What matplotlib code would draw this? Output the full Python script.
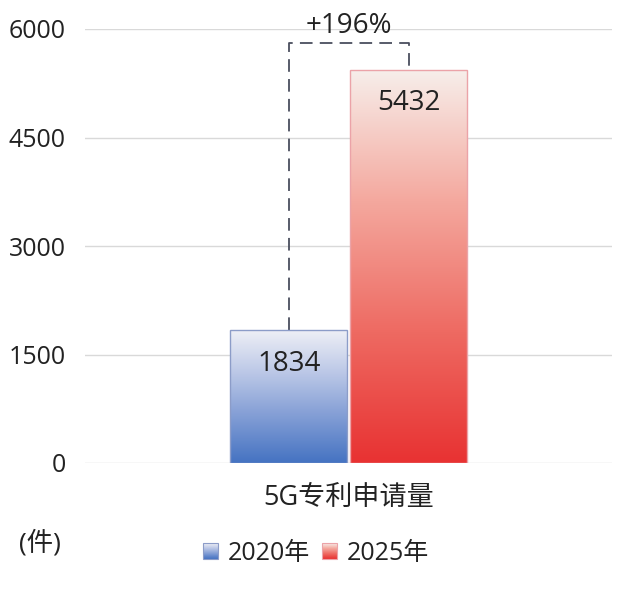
import numpy as np
import matplotlib
matplotlib.use("Agg")
import matplotlib.pyplot as plt
from matplotlib.colors import LinearSegmentedColormap
from matplotlib.patches import Patch, Rectangle
from matplotlib.legend_handler import HandlerBase
from matplotlib.image import BboxImage
from matplotlib.transforms import Bbox, TransformedBbox

plt.rcParams['font.family'] = ['Open Sans', 'Noto Sans CJK SC', 'DejaVu Sans']

# data
category = '5G专利申请量'
years = ['2020年', '2025年']
values = [1834, 5432]
growth = '+196%'
y_ticks = [0, 1500, 3000, 4500, 6000]
unit = '(件)'

# gradient colours, bottom -> top
grad_colors = [
    ['#4573c2', '#7f9bd4', '#b9c6e6', '#eeeff6'],
    ['#e83232', '#ee6a62', '#f4a89e', '#f7eeea'],
]
edge_colors = ['#8c9cc8', '#eba3a8']
txt = '#222222'

cmaps = [LinearSegmentedColormap.from_list('g%d' % i, grad_colors[i]) for i in range(2)]
grad = np.linspace(0, 1, 256).reshape(-1, 1)


class GradHandler(HandlerBase):
    # legend square filled with the same vertical gradient as the bar
    def __init__(self, cmap, edge):
        super().__init__()
        self.cmap = cmap
        self.edge = edge

    def create_artists(self, legend, orig_handle, xdescent, ydescent,
                       width, height, fontsize, trans):
        bb = TransformedBbox(Bbox.from_bounds(-xdescent, -ydescent, width, height), trans)
        img = BboxImage(bb, cmap=self.cmap, origin='lower', interpolation='bilinear')
        img.set_data(np.linspace(0.0, 0.9, 64).reshape(-1, 1))
        rect = Rectangle((-xdescent, -ydescent), width, height, facecolor='none',
                         edgecolor=self.edge, linewidth=0.8, transform=trans)
        return [img, rect]


fig = plt.figure(figsize=(6.4, 5.89), dpi=100)
ax = fig.add_axes([85 / 640, 1 - 463 / 589, 527 / 640, 434 / 589])

ax.set_xlim(-0.5, 0.5)
ax.set_ylim(0, 6000)
ax.set_yticks(y_ticks)
ax.set_yticklabels([str(t) for t in y_ticks], fontsize=18, color=txt)
ax.tick_params(axis='y', length=0, pad=14)
ax.set_xticks([0])
ax.set_xticklabels([category], fontsize=19.5, color=txt)
ax.tick_params(axis='x', length=0, pad=15)
for s in ax.spines.values():
    s.set_visible(False)
ax.grid(axis='y', color='#d9d9d9', linewidth=1)
ax.set_axisbelow(True)

width = 0.222
offsets = [-0.113, 0.114]
for i in range(2):
    cx = offsets[i]
    bar = ax.bar(cx, values[i], width=width, facecolor='none',
                 edgecolor=edge_colors[i], linewidth=1, zorder=3)[0]
    im = ax.imshow(grad, cmap=cmaps[i], origin='lower', aspect='auto',
                   extent=[cx - width / 2, cx + width / 2, 0, values[i]], zorder=2)
    im.set_clip_path(bar)
    ax.annotate(str(values[i]), (cx, values[i]), xytext=(0, -24), textcoords='offset points',
                ha='center', va='center', fontsize=20, color=txt, zorder=4)

# growth bracket
top = 5800
ax.plot([offsets[0], offsets[0], offsets[1], offsets[1]],
        [values[0], top, top, values[1]], color='#4a4e5e', linewidth=1.3,
        dashes=(7, 4), zorder=1)
ax.text(0, 6040, growth, ha='center', va='center', fontsize=20, color=txt,
        clip_on=False)

fig.text(40 / 640, 1 - 543 / 589, unit, ha='center', va='center', fontsize=19, color=txt)

handles = [Patch(), Patch()]
fig.legend(handles, years, loc='center', bbox_to_anchor=(316 / 640, 1 - 553 / 589),
           ncol=2, frameon=False, fontsize=18, handlelength=0.6, handleheight=0.6,
           handletextpad=0.4, columnspacing=0.5, labelcolor=txt,
           handler_map={handles[0]: GradHandler(cmaps[0], edge_colors[0]),
                        handles[1]: GradHandler(cmaps[1], edge_colors[1])})

fig.savefig('out.png', dpi=100)
